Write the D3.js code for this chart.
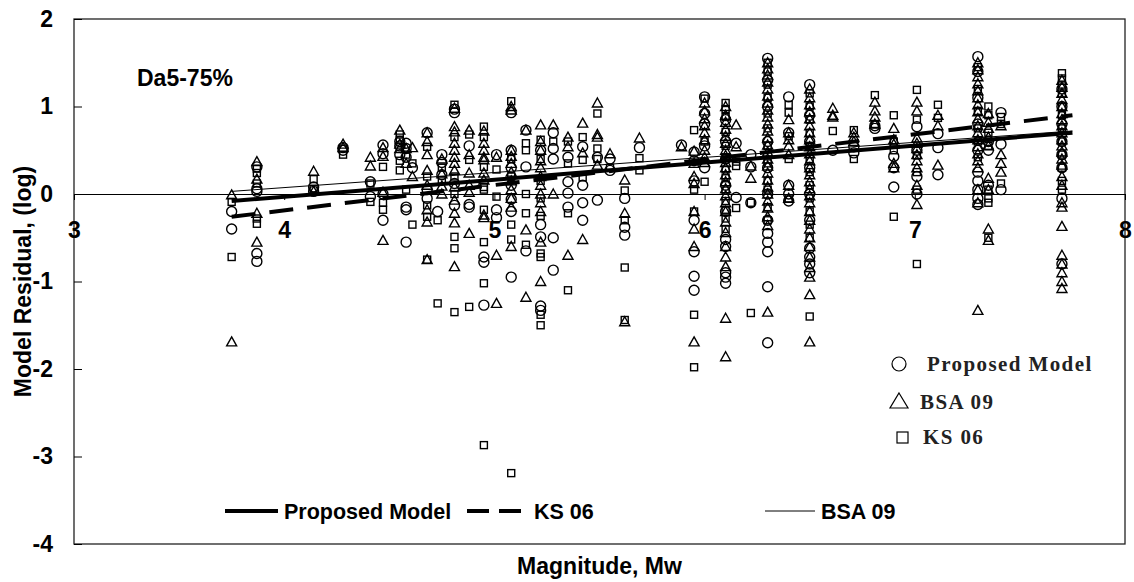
<!DOCTYPE html>
<html>
<head>
<meta charset="utf-8">
<script src="https://cdn.jsdelivr.net/npm/d3@7"></script>
<style>
  body { margin: 0; background: #fff; }
</style>
</head>
<body>
<div id="chart"></div>
<script>
// magnitude of each column of residuals
const mags = [3.75, 3.87, 4.14, 4.28, 4.41, 4.47, 4.55, 4.58, 4.61, 4.68, 4.73, 4.75, 4.81, 4.88, 4.95,
  5.01, 5.08, 5.15, 5.22, 5.28, 5.35, 5.42, 5.49, 5.55, 5.62, 5.69, 5.89, 5.95, 6.0, 6.1, 6.15, 6.22,
  6.3, 6.4, 6.5, 6.61, 6.71, 6.81, 6.9, 7.01, 7.11, 7.3, 7.35, 7.41, 7.7];

// Proposed Model residuals (circles), one list per magnitude
const proposedRes = [
  [-0.2, -0.4], [0.31, 0.06, 0.03, -0.68, -0.77], [0.08, 0.03], [0.53, 0.5], [0.14, -0.03],
  [0.56, 0.46, 0.0, -0.3], [0.6, 0.55, 0.45], [0.58, 0.52, 0.42, -0.15, -0.18, -0.55], [0.3],
  [0.7, 0.05, -0.05], [-0.2], [0.45, 0.36, 0.22], [0.97, 0.93, 0.12, -0.13], [0.55, -0.12, -0.15],
  [-0.72, -0.78, -1.27], [0.45, -0.18, -0.27], [0.93, 0.5, 0.3, 0.1, -0.06, -0.2, -0.95],
  [0.73, 0.31, -0.65], [0.5, -0.35, -0.49, -1.28, -1.33], [0.7, 0.52, 0.4, -0.5, -0.87],
  [0.42, 0.14, 0.01, -0.15], [0.54, 0.1, -0.1, -0.3], [0.42, -0.07], [0.4, 0.27],
  [-0.05, -0.38, -0.47], [0.53], [0.56], [0.48, 0.38, 0.15, -0.3, -0.66, -0.94, -1.1],
  [1.11, 0.92, 0.8, 0.55, 0.3], [0.85, 0.6, 0.4, 0.1, -0.2, -0.52, -0.6, -0.9, -0.95, -1.02],
  [0.58, -0.04], [0.45, 0.31, -0.1],
  [1.55, 1.3, 1.0, 0.6, 0.3, 0.0, -0.3, -0.45, -0.55, -0.66, -1.06, -1.7],
  [1.11, 0.7, 0.1, 0.0, -0.08], [1.25, 0.9, 0.6, 0.3, 0.0, -0.3, -0.62, -0.72, -0.8, -0.9],
  [0.5], [0.47, 0.54], [0.78, 0.75], [0.43, 0.3, 0.08], [0.77, 0.5, 0.2, 0.0], [0.69, 0.53, 0.22],
  [1.57, 1.4, 1.1, 0.8, 0.5, 0.25, 0.15, 0.05, -0.05, -0.12], [0.6, 0.5, 0.1], [0.93, 0.57, 0.05],
  [1.2, 1.0, 0.8, 0.6, 0.45, 0.3, -0.05, -0.8]
];

// BSA 09 residuals (triangles)
const bsaRes = [
  [-0.01, -1.69], [0.37, 0.17, -0.22, -0.55], [0.26, 0.03], [0.57, 0.53], [0.42, 0.32],
  [0.53, 0.43, 0.02, -0.53], [0.73, 0.57, 0.52], [0.52, 0.35], [0.53, 0.2],
  [0.7, 0.6, 0.45, 0.27, 0.1, -0.18, -0.32, -0.75], [], [0.4, 0.23, 0.09, 0.0],
  [0.98, 0.77, 0.71, 0.58, 0.5, 0.42, 0.35, 0.27, 0.08, -0.07, -0.22, -0.33, -0.83],
  [0.73, 0.45, 0.24, 0.1, 0.02, -0.45], [0.72, 0.58, 0.5, 0.42, 0.39, 0.24, 0.16, -0.24, -0.27],
  [0.42, -0.7, -1.25], [1.0, 0.96, 0.5, 0.43, 0.35, 0.25, 0.15, 0.05, -0.05, -0.15, -0.6],
  [0.73, -0.41, -1.18], [0.79, 0.6, 0.5, 0.38, 0.3, 0.2, 0.1, 0.0, -0.1, -0.2, -0.55, -1.0],
  [0.79, 0.0], [0.65, 0.54, -0.7], [0.81, 0.47, -0.52], [1.04, 0.68, 0.65, 0.33], [0.46],
  [0.16, -0.22, -1.46], [0.64], [0.54], [0.49, 0.35, 0.2, 0.12, -0.2, -0.4, -0.6, -1.69],
  [1.04, 0.95, 0.86, 0.78, 0.7, 0.62, 0.5, 0.42, 0.36],
  [1.0, 0.9, 0.82, 0.74, 0.66, 0.58, 0.5, 0.44, 0.36, 0.3, 0.22, 0.14, 0.06, -0.02, -0.1, -0.2,
    -0.32, -0.44, -0.6, -0.72, -0.83, -1.42, -1.86],
  [0.79, 0.54], [0.32, 0.18],
  [1.5, 1.43, 1.36, 1.28, 1.2, 1.12, 1.04, 0.96, 0.88, 0.8, 0.72, 0.64, 0.56, 0.48, 0.4, 0.32,
    0.24, 0.16, 0.08, 0.0, -0.08, -0.16, -0.26, -0.36, -1.35],
  [0.85, 0.7, 0.62, 0.55, 0.45, 0.1, -0.05],
  [1.2, 1.1, 1.02, 0.94, 0.86, 0.78, 0.7, 0.62, 0.54, 0.46, 0.38, 0.3, 0.22, 0.14, 0.06, -0.02,
    -0.1, -0.2, -0.3, -0.4, -0.5, -0.6, -0.72, -0.84, -0.95, -1.15, -1.69],
  [0.98, 0.9, 0.88], [0.7, 0.65, 0.6], [1.05, 0.95, 0.88, 0.8], [0.75, 0.62, 0.57, 0.35, 0.3],
  [1.05, 0.95, 0.64, 0.58, 0.52, 0.45, 0.38, 0.3, 0.1, -0.12], [0.9, 0.78, 0.33],
  [1.5, 1.42, 1.34, 1.26, 1.18, 1.1, 1.02, 0.94, 0.86, 0.78, 0.7, 0.62, 0.54, 0.46, 0.38, 0.3,
    0.05, -0.1, -1.33],
  [0.92, 0.82, 0.75, 0.65, 0.55, 0.18, 0.05, -0.4, -0.53], [0.78, 0.45, 0.35, 0.25],
  [1.3, 1.22, 1.15, 1.08, 1.0, 0.92, 0.85, 0.78, 0.7, 0.62, 0.55, 0.48, 0.4, 0.33, 0.2, 0.1,
    -0.1, -0.15, -0.37, -0.7, -0.8, -0.9, -1.0, -1.08]
];

// KS 06 residuals (squares)
const ksRes = [
  [-0.09, -0.72], [0.29, 0.24, 0.12, -0.28, -0.34], [0.17, 0.06], [0.45], [0.12, -0.09],
  [0.31, -0.1, -0.18], [0.68, 0.62, 0.38, 0.27], [0.45, 0.05], [0.35, -0.35],
  [0.54, 0.2, -0.13, -0.26, -0.75], [-0.3, -1.25], [0.3, 0.16],
  [1.02, 0.65, 0.2, 0.0, -0.49, -0.62, -1.35], [0.68, 0.39, -1.29],
  [0.77, 0.65, 0.31, 0.08, 0.05, -0.18, -0.55, -1.02, -2.87], [0.28, -0.03],
  [1.06, 0.4, 0.2, -0.35, -0.52, -3.19], [0.58, 0.5, 0.0, -0.22, -0.58],
  [0.62, 0.4, 0.15, -0.05, -0.25, -0.68, -0.72, -1.38, -1.5], [0.6], [0.6, 0.35, -0.22, -1.1],
  [0.65, 0.39, 0.19], [0.92, 0.52, 0.4], [0.3], [0.04, -0.3, -0.84, -1.44], [0.41, 0.27], [],
  [0.73, 0.05, -0.2, -1.38, -1.98], [1.09, 0.6, 0.14],
  [1.04, 0.97, 0.88, 0.71, 0.55, 0.42, 0.28, 0.18, 0.04, -0.08, -0.18, -0.28, -0.4],
  [0.37, 0.32, -0.16], [-0.1, -1.36],
  [1.5, 1.4, 1.25, 1.1, 0.92, 0.75, 0.55, 0.35, 0.15, 0.05, -0.15, -0.3],
  [1.02, 0.93, 0.66, 0.4, -0.05],
  [1.15, 1.0, 0.85, 0.7, 0.55, 0.4, 0.25, 0.1, -0.05, -0.2, -0.35, -0.5, -1.4],
  [0.72], [0.73, 0.4], [1.13, 0.8], [0.9, 0.6, 0.5, -0.26], [1.19, 0.85, 0.44, 0.25, 0.05, -0.8],
  [1.02, 0.87], [1.45, 1.2, 0.95, 0.75, 0.6, 0.42],
  [1.0, 0.9, 0.7, 0.55, 0.05, -0.05, -0.1, -0.5], [0.88, 0.8, 0.12],
  [1.38, 1.32, 1.25, 1.15, 1.0, 0.9, 0.75, 0.6, 0.45, 0.3, 0.15, 0.05]
];

// regression lines: [M start, M end] and residual at each end
const fitMags = [3.75, 7.75];
const fitProposed = [-0.08, 0.7];
const fitKS = [-0.26, 0.9];
const fitBSA = [0.03, 0.72];

const xTicks = [3, 4, 5, 6, 7, 8];
const yTicks = [-4, -3, -2, -1, 0, 1, 2];

const width = 1134,
  height = 582;
const m = { left: 74, right: 1125, top: 19, bottom: 544 };
const sans = "Arial, 'Liberation Sans', sans-serif";
const serif = "'Liberation Serif', 'Times New Roman', serif";

const svg = d3
  .select("#chart")
  .append("svg")
  .attr("width", width)
  .attr("height", height)
  .style("font-family", sans);

const x = d3.scaleLinear().domain([3, 8]).range([m.left, m.right]);
const y = d3.scaleLinear().domain([-4, 2]).range([m.bottom, m.top]);

// plot frame
svg
  .append("rect")
  .attr("x", m.left)
  .attr("y", m.top)
  .attr("width", m.right - m.left)
  .attr("height", m.bottom - m.top)
  .attr("fill", "none")
  .attr("stroke", "#222")
  .attr("stroke-width", 1.3);

// y axis, ticks pointing inward
const yAxis = svg
  .append("g")
  .attr("transform", `translate(${m.left},0)`)
  .call(
    d3.axisLeft(y).tickValues(yTicks).tickFormat((d) => String(d))
      .tickSizeInner(-8).tickSizeOuter(0).tickPadding(21)
  );
yAxis.select(".domain").remove();
yAxis.selectAll("line").attr("stroke", "#000");
yAxis
  .selectAll("text")
  .style("font-family", sans)
  .style("font-size", "23px")
  .style("font-weight", "bold")
  .attr("fill", "#000");

// x axis runs along zero
const xAxis = svg
  .append("g")
  .attr("transform", `translate(0,${y(0)})`)
  .call(
    d3.axisBottom(x).tickValues(xTicks).tickFormat((d) => String(d))
      .tickSizeInner(6).tickSizeOuter(0).tickPadding(22)
  );
xAxis.select(".domain").attr("stroke", "#000").attr("stroke-width", 1);
xAxis.selectAll("line").attr("stroke", "#000");
xAxis
  .selectAll("text")
  .style("font-family", sans)
  .style("font-size", "23px")
  .style("font-weight", "bold")
  .attr("fill", "#000");

// flatten the columns
function flat(res) {
  const out = [];
  res.forEach((vals, i) => vals.forEach((v) => out.push([mags[i], v])));
  return out;
}

const marks = svg.append("g").attr("fill", "none").attr("stroke", "#000").attr("stroke-width", 1.4);

marks
  .selectAll("circle")
  .data(flat(proposedRes))
  .enter()
  .append("circle")
  .attr("cx", (d) => x(d[0]))
  .attr("cy", (d) => y(d[1]))
  .attr("r", 5);

marks
  .selectAll("path.tri")
  .data(flat(bsaRes))
  .enter()
  .append("path")
  .attr("class", "tri")
  .attr("d", (d) => {
    const cx = x(d[0]),
      cy = y(d[1]);
    return `M${cx},${cy - 5}L${cx + 5},${cy + 4}L${cx - 5},${cy + 4}Z`;
  });

marks
  .selectAll("rect")
  .data(flat(ksRes))
  .enter()
  .append("rect")
  .attr("x", (d) => x(d[0]) - 3.5)
  .attr("y", (d) => y(d[1]) - 3.5)
  .attr("width", 7)
  .attr("height", 7);

// fitted lines
const fitLine = (vals) =>
  d3.line()([
    [x(fitMags[0]), y(vals[0])],
    [x(fitMags[1]), y(vals[1])]
  ]);

svg.append("path").attr("d", fitLine(fitBSA)).attr("stroke", "#000").attr("stroke-width", 1).attr("fill", "none");
svg
  .append("path")
  .attr("d", fitLine(fitKS))
  .attr("stroke", "#000")
  .attr("stroke-width", 4)
  .attr("stroke-dasharray", "24,14")
  .attr("fill", "none");
svg.append("path").attr("d", fitLine(fitProposed)).attr("stroke", "#000").attr("stroke-width", 4).attr("fill", "none");

// line legend at the bottom of the plot
const lineLegend = [
  { label: "Proposed Model", x0: 225, x1: 278, w: 4, dash: null },
  { label: "KS 06", x0: 467, x1: 528, w: 4, dash: "22,10" },
  { label: "BSA 09", x0: 765, x1: 815, w: 1, dash: null }
];
const ll = svg.append("g");
lineLegend.forEach((d) => {
  ll.append("line")
    .attr("x1", d.x0)
    .attr("x2", d.x1)
    .attr("y1", 511)
    .attr("y2", 511)
    .attr("stroke", "#000")
    .attr("stroke-width", d.w)
    .attr("stroke-dasharray", d.dash);
  ll.append("text")
    .attr("x", d.x1 + 6)
    .attr("y", 519)
    .style("font-size", "21.5px")
    .style("font-weight", "bold")
    .text(d.label);
});

// marker legend
const ml = svg.append("g").attr("fill", "none").attr("stroke", "#000").attr("stroke-width", 1.2);
ml.append("circle").attr("cx", 899).attr("cy", 364).attr("r", 7);
ml.append("path").attr("d", "M899,393L908,408L890,408Z");
ml.append("rect").attr("x", 897).attr("y", 432).attr("width", 11).attr("height", 11);
const mlText = [
  ["Proposed Model", 927, 371],
  ["BSA 09", 920, 409],
  ["KS 06", 923, 444]
];
mlText.forEach((t) => {
  svg
    .append("text")
    .attr("x", t[1])
    .attr("y", t[2])
    .style("font-family", serif)
    .style("font-size", "21px")
    .style("font-weight", "bold")
    .style("letter-spacing", "1.4px")
    .attr("fill", "#222")
    .text(t[0]);
});

// panel label
svg
  .append("text")
  .attr("x", 137)
  .attr("y", 86)
  .style("font-size", "23px")
  .style("font-weight", "bold")
  .text("Da5-75%");

// axis titles
svg
  .append("text")
  .attr("x", (m.left + m.right) / 2)
  .attr("y", 574)
  .attr("text-anchor", "middle")
  .style("font-size", "23px")
  .style("font-weight", "bold")
  .text("Magnitude, Mw");

svg
  .append("text")
  .attr("transform", `translate(31,${(m.top + m.bottom) / 2}) rotate(-90)`)
  .attr("text-anchor", "middle")
  .style("font-size", "23px")
  .style("font-weight", "bold")
  .text("Model Residual, (log)");
</script>
</body>
</html>
